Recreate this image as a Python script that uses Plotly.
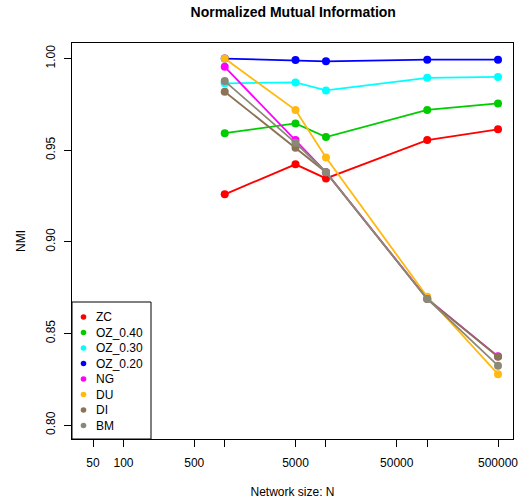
import plotly.graph_objects as go

N = [1000, 5000, 10000, 100000, 500000]

series_names = ["ZC", "OZ_0.40", "OZ_0.30", "OZ_0.20", "NG", "DU", "DI", "BM"]
ZC = [0.9259, 0.9423, 0.9346, 0.9555, 0.9614]
OZ_040 = [0.9593, 0.9646, 0.9572, 0.9720, 0.9755]
OZ_030 = [0.9865, 0.9870, 0.9826, 0.9895, 0.9900]
OZ_020 = [1.0000, 0.9992, 0.9985, 0.9994, 0.9994]
NG = [0.9955, 0.9555, 0.9380, 0.8690, 0.8375]
DU = [1.0000, 0.9719, 0.9460, 0.8700, 0.8278]
DI = [0.9819, 0.9513, 0.9380, 0.8688, 0.8373]
BM = [0.9877, 0.9540, 0.9380, 0.8688, 0.8324]
series_values = [ZC, OZ_040, OZ_030, OZ_020, NG, DU, DI, BM]
colors = ["#FF0000", "#00CC00", "#00FFFF", "#0000FF", "#FF00FF", "#FFB90F", "#8B7355", "#8B8878"]

x_tickvals = [50, 100, 500, 1000, 5000, 10000, 50000, 100000, 500000]
x_ticktext = ["50", "100", "500", "", "5000", "", "50000", "", "500000"]
y_tickvals = [0.80, 0.85, 0.90, 0.95, 1.00]
y_ticktext = ["0.80", "0.85", "0.90", "0.95", "1.00"]

FONT = "Liberation Sans, Arial, Helvetica, sans-serif"
W, H = 519, 503
ML, MR, MT, MB = 72, 6, 43, 64
PW, PH = W - ML - MR, H - MT - MB

fig = go.Figure()
for name, vals, col in zip(series_names, series_values, colors):
    fig.add_trace(go.Scatter(
        x=N, y=vals, mode="lines+markers", name=name, showlegend=False,
        line=dict(color=col, width=1.8),
        marker=dict(color=col, size=8, line=dict(width=0)),
        hoverinfo="skip",
    ))

# Manual R-style legend (bottom-left, inside the plot box)
leg_w, leg_h = 79, 137
item_top, item_gap = 122, 15.5
shapes = [dict(type="rect", xref="paper", yref="paper", x0=0, y0=0,
               x1=leg_w / PW, y1=leg_h / PH, line=dict(color="black", width=1),
               fillcolor="white", layer="above")]
annotations = []
for i, (name, col) in enumerate(zip(series_names, colors)):
    yp = (item_top - i * item_gap) / PH
    shapes.append(dict(type="circle", xref="paper", yref="paper",
                       xsizemode="pixel", ysizemode="pixel",
                       xanchor=11.5 / PW, yanchor=yp, x0=-2.8, x1=2.8, y0=-2.8, y1=2.8,
                       fillcolor=col, line=dict(width=0), layer="above"))
    annotations.append(dict(xref="paper", yref="paper", x=22 / PW, y=yp,
                            xanchor="left", yanchor="middle", text=name, showarrow=False,
                            font=dict(size=12, family=FONT, color="black")))

fig.update_layout(
    width=W, height=H,
    margin=dict(l=ML, r=MR, t=MT, b=MB),
    paper_bgcolor="white", plot_bgcolor="white",
    font=dict(family=FONT, size=12, color="black"),
    title=dict(text="<b>Normalized Mutual Information</b>", x=0.565, xanchor="center",
               y=0.975, yanchor="middle", font=dict(size=14, family=FONT, color="black")),
    showlegend=False,
    shapes=shapes,
    annotations=annotations,
)
fig.update_xaxes(
    type="log", range=[1.4916, 5.847],
    tickvals=x_tickvals, ticktext=x_ticktext,
    ticks="outside", ticklen=7, tickcolor="black", tickwidth=1,
    showline=True, linecolor="black", linewidth=1, mirror=True,
    showgrid=False, zeroline=False, automargin=False,
    ticklabelstandoff=6,
    title=dict(text="Network size: N", font=dict(size=12, family=FONT), standoff=18),
    tickfont=dict(size=12, family=FONT),
)
fig.update_yaxes(
    range=[0.7924, 1.0085],
    tickvals=y_tickvals, ticktext=y_ticktext, tickangle=-90,
    ticks="outside", ticklen=7, tickcolor="black", tickwidth=1,
    showline=True, linecolor="black", linewidth=1, mirror=True,
    showgrid=False, zeroline=False, automargin=False,
    ticklabelstandoff=4,
    title=dict(text="NMI", font=dict(size=12, family=FONT), standoff=16),
    tickfont=dict(size=12, family=FONT),
)

fig.write_html("out.html", config={"displayModeBar": False},
               post_script="document.body.style.margin='0';")
